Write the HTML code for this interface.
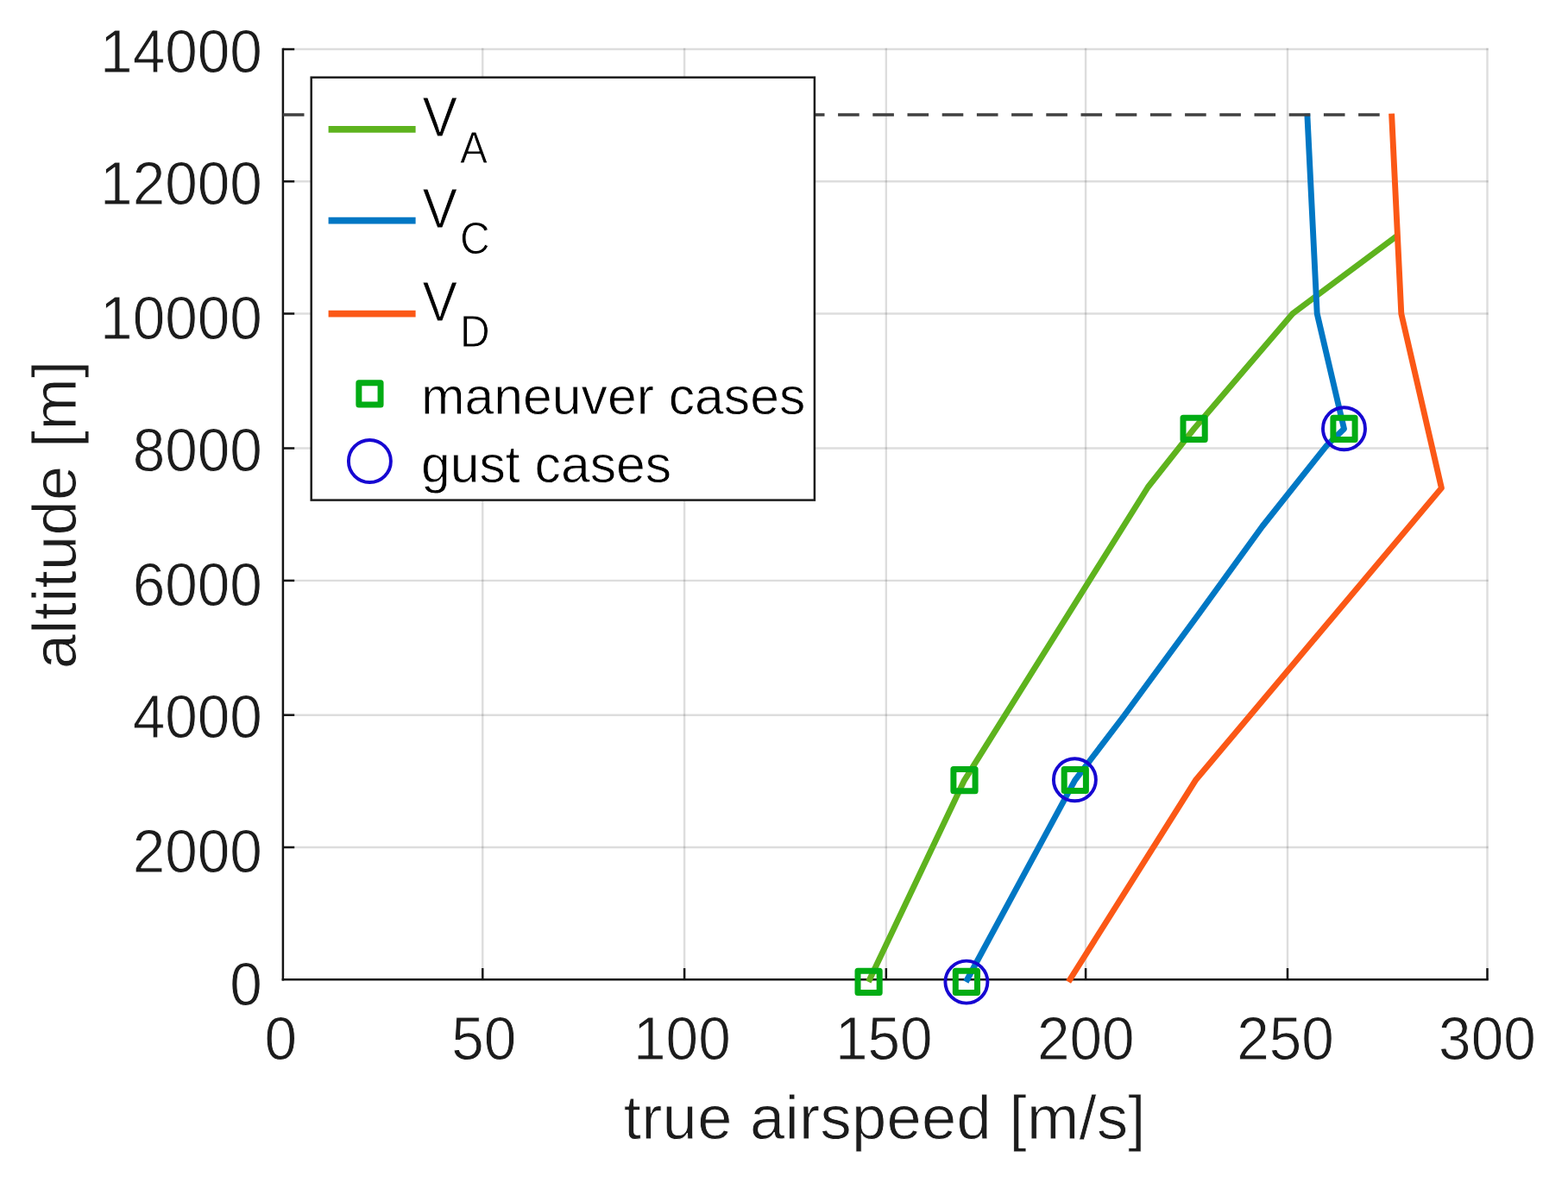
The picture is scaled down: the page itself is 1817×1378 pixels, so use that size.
<!DOCTYPE html>
<html lang="en">
<head>
<meta charset="utf-8">
<title>Flight envelope: true airspeed vs altitude</title>
<style>
html,body{margin:0;padding:0;background:#fff;}
body{width:1817px;height:1378px;overflow:hidden;}
svg{display:block;font-family:"Liberation Sans",sans-serif;}
text{stroke:#fff;stroke-width:0.80px;stroke-linejoin:round;paint-order:fill stroke;}
.tk{font-size:67.50px;fill:#1c1c1c;}
.lab{font-size:72.30px;fill:#1c1c1c;letter-spacing:0.33px;}
.leg{font-size:60.70px;fill:#000;}
.sub{font-size:48.00px;fill:#000;}
</style>
</head>
<body>
<svg width="1817" height="1378" viewBox="0 0 1817 1378">
<g>
<rect x="0" y="0" width="1817" height="1378" fill="#fff"/>
<g stroke="#1c1c1c" stroke-opacity="0.15" stroke-width="2.40" fill="none">
<line x1="559.25" y1="55.85" x2="559.25" y2="1135.35"/>
<line x1="793.10" y1="55.85" x2="793.10" y2="1135.35"/>
<line x1="1026.85" y1="55.85" x2="1026.85" y2="1135.35"/>
<line x1="1258.10" y1="55.85" x2="1258.10" y2="1135.35"/>
<line x1="1492.00" y1="55.85" x2="1492.00" y2="1135.35"/>
<line x1="1723.50" y1="55.85" x2="1723.50" y2="1135.35"/>
<line x1="327.90" y1="982.00" x2="1724.70" y2="982.00"/>
<line x1="327.90" y1="828.70" x2="1724.70" y2="828.70"/>
<line x1="327.90" y1="672.90" x2="1724.70" y2="672.90"/>
<line x1="327.90" y1="519.50" x2="1724.70" y2="519.50"/>
<line x1="327.90" y1="363.50" x2="1724.70" y2="363.50"/>
<line x1="327.90" y1="210.25" x2="1724.70" y2="210.25"/>
<line x1="327.90" y1="57.05" x2="1724.70" y2="57.05"/>
</g>
<g stroke="#141414" stroke-width="2.50" fill="none" stroke-linecap="butt">
<line x1="327.90" y1="55.80" x2="327.90" y2="1136.60"/>
<line x1="326.65" y1="1135.35" x2="1724.75" y2="1135.35"/>
<line x1="559.25" y1="1135.35" x2="559.25" y2="1122.05"/>
<line x1="793.10" y1="1135.35" x2="793.10" y2="1122.05"/>
<line x1="1026.85" y1="1135.35" x2="1026.85" y2="1122.05"/>
<line x1="1258.10" y1="1135.35" x2="1258.10" y2="1122.05"/>
<line x1="1492.00" y1="1135.35" x2="1492.00" y2="1122.05"/>
<line x1="1723.50" y1="1135.35" x2="1723.50" y2="1122.05"/>
<line x1="327.90" y1="982.00" x2="341.20" y2="982.00"/>
<line x1="327.90" y1="828.70" x2="341.20" y2="828.70"/>
<line x1="327.90" y1="672.90" x2="341.20" y2="672.90"/>
<line x1="327.90" y1="519.50" x2="341.20" y2="519.50"/>
<line x1="327.90" y1="363.50" x2="341.20" y2="363.50"/>
<line x1="327.90" y1="210.25" x2="341.20" y2="210.25"/>
<line x1="327.90" y1="57.05" x2="341.20" y2="57.05"/>
</g>
<g fill="none" stroke-width="6.90" stroke-linejoin="round" stroke-linecap="butt">
<polyline stroke="#5eb31e" points="1006.36,1138.00 1117.50,904.30 1330.30,564.50 1383.60,497.00 1497.90,363.50 1619.00,273.20"/>
<polyline stroke="#0077c4" points="1119.30,1138.00 1245.60,904.30 1302.20,830.00 1390.30,710.00 1462.80,610.00 1536.50,517.30 1557.50,497.00 1526.20,363.40 1514.80,131.60"/>
<polyline stroke="#fb5816" points="1238.09,1138.00 1385.40,904.30 1670.40,565.60 1623.80,363.50 1612.60,131.60"/>
</g>
<line x1="327.90" y1="133.00" x2="1612.00" y2="133.00" stroke="#404040" stroke-width="3.7" stroke-dasharray="24.6 15.6" fill="none"/>
<g fill="none" stroke="#02ac14" stroke-width="7.00" stroke-linejoin="round">
<rect x="994.00" y="1125.30" width="25.20" height="25.20"/>
<rect x="1104.90" y="891.50" width="25.20" height="25.20"/>
<rect x="1371.00" y="484.20" width="25.20" height="25.20"/>
<rect x="1107.30" y="1125.30" width="25.20" height="25.20"/>
<rect x="1233.20" y="891.40" width="25.20" height="25.20"/>
<rect x="1544.90" y="484.30" width="25.20" height="25.20"/>
</g>
<g fill="none" stroke="#1606d2" stroke-width="3.90">
<circle cx="1119.90" cy="1138.10" r="24.5"/>
<circle cx="1245.40" cy="903.70" r="24.5"/>
<circle cx="1557.50" cy="496.80" r="24.5"/>
</g>
<rect x="360.70" y="89.70" width="583.20" height="489.90" fill="#fff" stroke="#1c1c1c" stroke-width="2.50"/>
<g fill="none" stroke-width="7.60">
<line x1="380.6" y1="149.90" x2="481.6" y2="149.90" stroke="#5eb31e"/>
<line x1="380.6" y1="255.60" x2="481.6" y2="255.60" stroke="#0077c4"/>
<line x1="380.6" y1="363.60" x2="481.6" y2="363.60" stroke="#fb5816"/>
</g>
<rect x="415.85" y="443.80" width="25.20" height="25.20" fill="none" stroke="#02ac14" stroke-width="7.00" stroke-linejoin="round"/>
<circle cx="428.4" cy="534.5" r="24.5" fill="none" stroke="#1606d2" stroke-width="3.90"/>
<text class="leg" transform="translate(489.50 158.40) scale(1 1.070)">V<tspan class="sub" dx="3.00" dy="28.32">A</tspan></text>
<text class="leg" transform="translate(489.50 263.80) scale(1 1.070)">V<tspan class="sub" dx="3.00" dy="28.32">C</tspan></text>
<text class="leg" transform="translate(489.50 372.10) scale(1 1.070)">V<tspan class="sub" dx="3.00" dy="28.32">D</tspan></text>
<text class="leg" x="488.00" y="480.20">maneuver cases</text>
<text class="leg" x="488.00" y="558.70">gust cases</text>
<text class="tk" text-anchor="end" transform="translate(303.80 83.56) scale(1 1.040)">14000</text>
<text class="tk" text-anchor="end" transform="translate(303.80 236.76) scale(1 1.040)">12000</text>
<text class="tk" text-anchor="end" transform="translate(303.80 392.56) scale(1 1.040)">10000</text>
<text class="tk" text-anchor="end" transform="translate(303.80 546.06) scale(1 1.040)">8000</text>
<text class="tk" text-anchor="end" transform="translate(303.80 701.96) scale(1 1.040)">6000</text>
<text class="tk" text-anchor="end" transform="translate(303.80 855.46) scale(1 1.040)">4000</text>
<text class="tk" text-anchor="end" transform="translate(303.80 1011.46) scale(1 1.040)">2000</text>
<text class="tk" text-anchor="end" transform="translate(303.80 1164.56) scale(1 1.040)">0</text>
<text class="tk" text-anchor="middle" transform="translate(325.35 1227.56) scale(1 1.040)">0</text>
<text class="tk" text-anchor="middle" transform="translate(560.70 1227.56) scale(1 1.040)">50</text>
<text class="tk" text-anchor="middle" transform="translate(790.35 1227.56) scale(1 1.040)">100</text>
<text class="tk" text-anchor="middle" transform="translate(1024.30 1227.56) scale(1 1.040)">150</text>
<text class="tk" text-anchor="middle" transform="translate(1258.20 1227.56) scale(1 1.040)">200</text>
<text class="tk" text-anchor="middle" transform="translate(1489.50 1227.56) scale(1 1.040)">250</text>
<text class="tk" text-anchor="middle" transform="translate(1723.40 1227.56) scale(1 1.040)">300</text>
<text class="lab" text-anchor="middle" x="1025.30" y="1319.60">true airspeed [m/s]</text>
<text class="lab" text-anchor="middle" transform="translate(87.90 596.40) rotate(-90)">altitude [m]</text>
</g>
</svg>
</body>
</html>
